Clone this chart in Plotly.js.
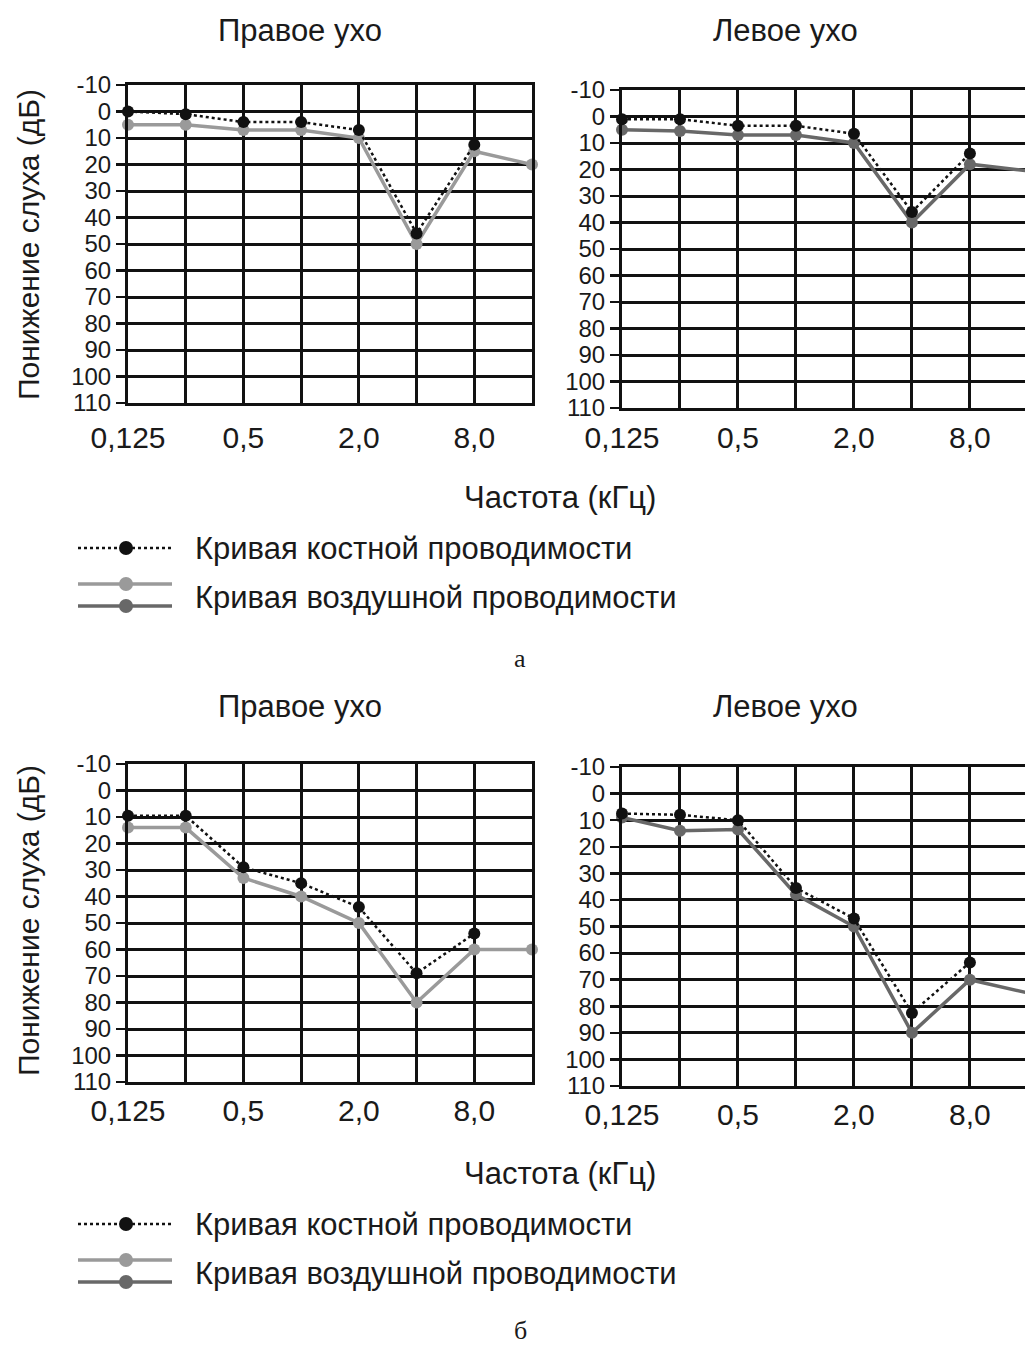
<!DOCTYPE html>
<html>
<head>
<meta charset="utf-8">
<script src="https://cdn.plot.ly/plotly-3.0.1.min.js"></script>
<style>html,body{margin:0;padding:0;background:#fff;}#chart{width:1025px;height:1346px;}</style>
</head>
<body>
<div id="chart"></div>
<script>
// ---- data ----
const freqIndex = [0, 1, 2, 3, 4, 5, 6, 7];
const freqTickText = ['0,125', '', '0,5', '', '2,0', '', '8,0', ''];
const dbTicks = [-10, 0, 10, 20, 30, 40, 50, 60, 70, 80, 90, 100, 110];
const dbTickText = ['-10', '0', '10', '20', '30', '40', '50', '60', '70', '80', '90', '100', '110'];

// panel а
const aRightBone = [0, 1, 4, 4, 7, 46, 12.5];
const aRightAir  = [5, 5, 7, 7, 10, 50, 15, 20];
const aLeftBone  = [1, 1, 3.5, 3.5, 6.5, 36, 14];
const aLeftAir   = [5, 5.5, 7, 7, 10, 40, 18, 20.5];
// panel б
const bRightBone = [9.5, 9.5, 29, 35, 44, 69, 54];
const bRightAir  = [14, 14, 33, 40, 50, 80, 60, 60];
const bLeftBone  = [7.5, 8, 10, 35.5, 47, 82.5, 63.5];
const bLeftAir   = [9, 14, 13.5, 38, 50, 90, 70, 75];

const titleRight = 'Правое ухо';
const titleLeft = 'Левое ухо';
const yTitle = 'Понижение слуха (дБ)';
const xTitle = 'Частота (кГц)';
const legendBone = 'Кривая костной проводимости';
const legendAir = 'Кривая воздушной проводимости';

// ---- styling ----
const W = 1025, H = 1346;
const FONT = 'Liberation Sans, Arial, sans-serif';
const LIGHT = '#9a9a9a', DARK = '#686868', BLACK = '#111';
const TXT = '#1a1a1a';
const px = v => v / W;
const py = v => 1 - v / H;

function boneTrace(y, xa, ya) {
  return {x: freqIndex.slice(0, y.length), y: y, xaxis: xa, yaxis: ya, type: 'scatter', mode: 'lines+markers',
    line: {color: BLACK, width: 2.5, dash: 'dot'}, marker: {color: BLACK, size: 12},
    cliponaxis: false, showlegend: false, hoverinfo: 'skip'};
}
function airTrace(y, xa, ya, col) {
  return {x: freqIndex.slice(0, y.length), y: y, xaxis: xa, yaxis: ya, type: 'scatter', mode: 'lines+markers',
    line: {color: col, width: 3.5}, marker: {color: col, size: 12},
    cliponaxis: false, showlegend: false, hoverinfo: 'skip'};
}

const data = [
  airTrace(aRightAir, 'x', 'y', LIGHT), boneTrace(aRightBone, 'x', 'y'),
  airTrace(aLeftAir, 'x2', 'y2', DARK), boneTrace(aLeftBone, 'x2', 'y2'),
  airTrace(bRightAir, 'x3', 'y3', LIGHT), boneTrace(bRightBone, 'x3', 'y3'),
  airTrace(bLeftAir, 'x4', 'y4', DARK), boneTrace(bLeftBone, 'x4', 'y4')
];

function xAxis(domain, anchor, range, standoff) {
  return {domain: domain, anchor: anchor, range: range, tickvals: freqIndex, ticktext: freqTickText,
    showgrid: true, gridcolor: BLACK, gridwidth: 3, zeroline: false, showline: true, linecolor: BLACK,
    linewidth: 3, mirror: true, ticks: '', ticklabelstandoff: standoff,
    tickfont: {family: FONT, size: 30, color: TXT}, fixedrange: true};
}
function yAxis(domain, anchor) {
  return {domain: domain, anchor: anchor, range: [110, -10], tickvals: dbTicks, ticktext: dbTickText,
    showgrid: true, gridcolor: BLACK, gridwidth: 3, zeroline: false, showline: true, linecolor: BLACK,
    linewidth: 3, mirror: true, ticks: 'outside', ticklen: 9, tickwidth: 2.5, tickcolor: BLACK,
    tickfont: {family: FONT, size: 24, color: TXT}, fixedrange: true};
}

const xL = [px(128), px(532)];
const xR = [px(622), 1];
const layout = {
  width: W, height: H, margin: {l: 0, r: 0, t: 0, b: 0},
  paper_bgcolor: '#fff', plot_bgcolor: '#fff', showlegend: false,
  xaxis: xAxis(xL, 'y', [0, 7], 6),
  yaxis: yAxis([py(403), py(85)], 'x'),
  xaxis2: xAxis(xR, 'y2', [0, 6.95], 1),
  yaxis2: yAxis([py(408), py(90)], 'x2'),
  xaxis3: xAxis(xL, 'y3', [0, 7], 0),
  yaxis3: yAxis([py(1082), py(764)], 'x3'),
  xaxis4: xAxis(xR, 'y4', [0, 6.95], 0),
  yaxis4: yAxis([py(1086), py(767)], 'x4'),
  annotations: [],
  shapes: []
};

function txt(text, x, y, opts) {
  layout.annotations.push(Object.assign({text: text, x: px(x), y: py(y), xref: 'paper', yref: 'paper',
    showarrow: false, xanchor: 'center', yanchor: 'middle',
    font: {family: FONT, size: 31, color: TXT}}, opts || {}));
}

function panel(top, caption, capY) {
  txt(titleRight, 300, 30 + top);
  txt(titleLeft, 785, 30 + top);
  txt(yTitle, 28, 245 + top, {textangle: -90, font: {family: FONT, size: 30, color: TXT}});
  txt(xTitle, 560, 497 + top);
  // legend
  const lx0 = 78, lx1 = 172, lm = 126;
  layout.shapes.push({type: 'line', xref: 'paper', yref: 'paper', x0: px(lx0), x1: px(lx1), y0: py(548 + top), y1: py(548 + top),
    line: {color: BLACK, width: 2.5, dash: 'dot'}});
  layout.shapes.push({type: 'circle', xref: 'paper', yref: 'paper', x0: px(lm - 7), x1: px(lm + 7), y0: py(555 + top), y1: py(541 + top),
    fillcolor: BLACK, line: {width: 0}});
  [[584, LIGHT], [606, DARK]].forEach(([yy, col]) => {
    layout.shapes.push({type: 'line', xref: 'paper', yref: 'paper', x0: px(lx0), x1: px(lx1), y0: py(yy + top), y1: py(yy + top),
      line: {color: col, width: 3.5}});
    layout.shapes.push({type: 'circle', xref: 'paper', yref: 'paper', x0: px(lm - 7), x1: px(lm + 7), y0: py(yy + 7 + top), y1: py(yy - 7 + top),
      fillcolor: col, line: {width: 0}});
  });
  txt(legendBone, 193, 548 + top, {xanchor: 'left'});
  txt(legendAir, 193, 597 + top, {xanchor: 'left'});
  txt(caption, 520, capY, {font: {family: 'Liberation Serif, Times New Roman, serif', size: 26, color: TXT}});
}
panel(0, 'а', 658);
panel(676, 'б', 1330);

Plotly.newPlot('chart', data, layout, {displayModeBar: false, staticPlot: true});
</script>
</body>
</html>
